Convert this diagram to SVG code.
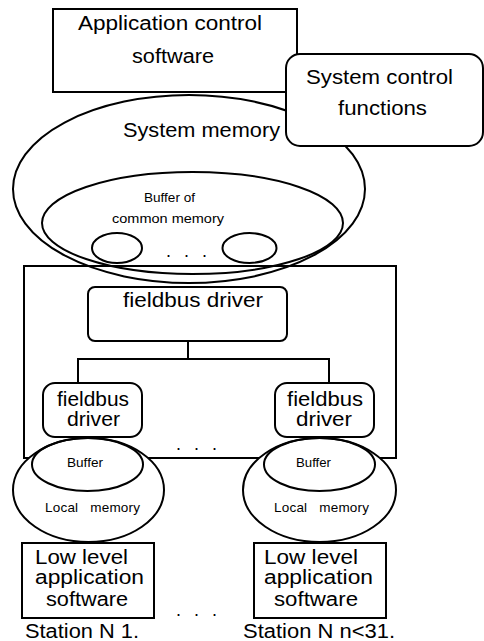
<svg xmlns="http://www.w3.org/2000/svg" width="484" height="641" viewBox="0 0 484 641">
  <style>
    .ln { fill: none; stroke: #000; stroke-width: 2; }
    .bx { fill: #fff; stroke: #000; stroke-width: 2; }
    .t { font-family: "Liberation Sans", Arial, sans-serif; fill: #000; font-size: 20px; }
    .s { font-family: "Liberation Sans", Arial, sans-serif; fill: #000; font-size: 13.5px; }
    .dots { font-family: "Liberation Sans", Arial, sans-serif; fill: #000; font-size: 18px; letter-spacing: 13px; }
  </style>
  <rect width="484" height="641" fill="#fff"/>

  <!-- host memory: system memory with common-memory buffer -->
  <g id="system-memory">
    <ellipse class="ln" cx="189" cy="189" rx="176" ry="94"/>
    <text class="t" x="123" y="137" textLength="157" lengthAdjust="spacingAndGlyphs">System memory</text>
  </g>
  <g id="common-buffer">
    <ellipse class="ln" cx="192.5" cy="223" rx="150.5" ry="51"/>
    <text class="s" x="144" y="202" textLength="51" lengthAdjust="spacingAndGlyphs">Buffer of</text>
    <text class="s" x="112" y="223" textLength="112" lengthAdjust="spacingAndGlyphs">common memory</text>
    <ellipse class="ln" cx="117" cy="248" rx="25" ry="15"/>
    <ellipse class="ln" cx="249.5" cy="248" rx="27" ry="15"/>
    <text class="dots" x="166" y="257">...</text>
  </g>

  <g id="app-control">
    <rect class="bx" x="53" y="9" width="244" height="83"/>
    <text class="t" x="78" y="30" textLength="184" lengthAdjust="spacingAndGlyphs">Application control</text>
    <text class="t" x="132" y="63" textLength="82" lengthAdjust="spacingAndGlyphs">software</text>
  </g>

  <g id="sys-control">
    <rect class="bx" x="286" y="54" width="197" height="92" rx="14"/>
    <text class="t" x="306" y="84" textLength="147" lengthAdjust="spacingAndGlyphs">System control</text>
    <text class="t" x="338" y="115" textLength="89" lengthAdjust="spacingAndGlyphs">functions</text>
  </g>

  <!-- fieldbus enclosure -->
  <g id="fieldbus-network">
    <rect class="ln" x="24" y="266" width="372" height="192"/>
  </g>

  <g id="fieldbus-master">
    <rect class="bx" x="88" y="287" width="199" height="54" rx="7"/>
    <text class="t" x="123" y="307" textLength="140" lengthAdjust="spacingAndGlyphs">fieldbus driver</text>
  </g>

  <g id="connectors">
    <path class="ln" d="M188 341 V359 M78 359 H329 M78 358 V383 M329 358 V383"/>
  </g>

  <g id="fieldbus-slave-1">
    <rect class="bx" x="43" y="383" width="99" height="54" rx="12"/>
    <text class="t" x="57" y="406" textLength="72" lengthAdjust="spacingAndGlyphs">fieldbus</text>
    <text class="t" x="67" y="426" textLength="53" lengthAdjust="spacingAndGlyphs">driver</text>
  </g>
  <g id="fieldbus-slave-n">
    <rect class="bx" x="275" y="383" width="99" height="54" rx="12"/>
    <text class="t" x="287" y="406" textLength="76" lengthAdjust="spacingAndGlyphs">fieldbus</text>
    <text class="t" x="296" y="426" textLength="56" lengthAdjust="spacingAndGlyphs">driver</text>
  </g>
  <text class="dots" x="176" y="450">...</text>

  <!-- station local memories -->
  <g id="local-memory-1">
    <ellipse class="bx" cx="88.5" cy="490" rx="75.5" ry="52"/>
    <ellipse class="ln" cx="87.5" cy="464.5" rx="55.5" ry="26.5"/>
    <text class="s" x="67" y="467" textLength="36" lengthAdjust="spacingAndGlyphs">Buffer</text>
    <text class="s" x="45" y="512" textLength="95" lengthAdjust="spacing" style="white-space:pre">Local   memory</text>
  </g>
  <g id="local-memory-n">
    <ellipse class="bx" cx="319.5" cy="490" rx="76.5" ry="52"/>
    <ellipse class="ln" cx="319.5" cy="464.5" rx="55.5" ry="26.5"/>
    <text class="s" x="296" y="467" textLength="35" lengthAdjust="spacingAndGlyphs">Buffer</text>
    <text class="s" x="274" y="512" textLength="95" lengthAdjust="spacing" style="white-space:pre">Local   memory</text>
  </g>

  <!-- station application software -->
  <g id="station-1">
    <rect class="bx" x="22" y="543" width="132" height="75"/>
    <text class="t" x="35" y="564" textLength="93" lengthAdjust="spacingAndGlyphs">Low level</text>
    <text class="t" x="35" y="584" textLength="109" lengthAdjust="spacingAndGlyphs">application</text>
    <text class="t" x="46" y="606" textLength="82" lengthAdjust="spacingAndGlyphs">software</text>
    <text class="t" x="25" y="638" textLength="114" lengthAdjust="spacingAndGlyphs">Station N 1.</text>
  </g>
  <g id="station-n">
    <rect class="bx" x="254" y="543" width="132" height="75"/>
    <text class="t" x="264" y="564" textLength="94" lengthAdjust="spacingAndGlyphs">Low level</text>
    <text class="t" x="264" y="584" textLength="109" lengthAdjust="spacingAndGlyphs">application</text>
    <text class="t" x="274" y="606" textLength="84" lengthAdjust="spacingAndGlyphs">software</text>
    <text class="t" x="243" y="638" textLength="152" lengthAdjust="spacingAndGlyphs">Station N n&lt;31.</text>
  </g>
  <text class="dots" x="176" y="616">...</text>
</svg>
